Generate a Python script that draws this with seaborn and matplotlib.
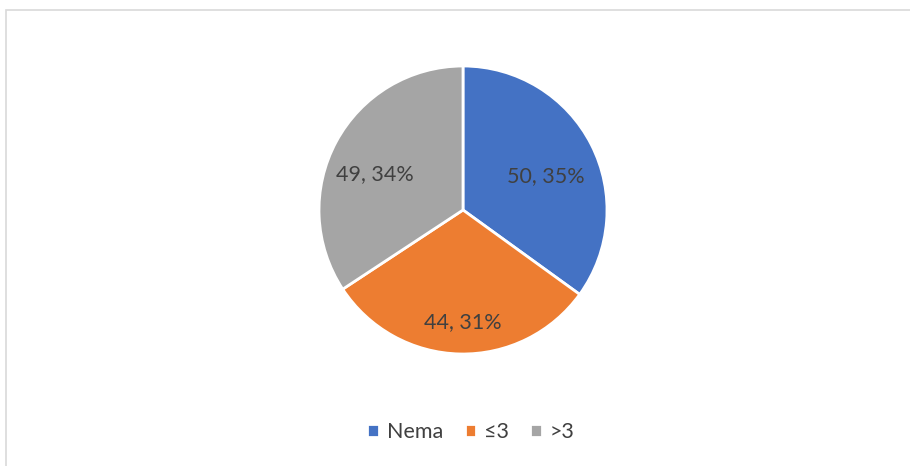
import matplotlib
matplotlib.use("Agg")
import matplotlib.pyplot as plt
import seaborn as sns
import numpy as np

# data
categories = ["Nema", "≤3", ">3"]
values = [50, 44, 49]
colors = ["#4472C4", "#ED7D31", "#A5A5A5"]
label_dist = [0.62, 0.78, 0.66]
label_shift = [-5, 1, 6]  # degrees, nudges like Excel's best-fit placement

sns.set_style("white")
plt.rcParams["font.family"] = ["Lato", "DejaVu Sans"]

W, H = 910, 466
fig = plt.figure(figsize=(W / 100, H / 100), dpi=100)

# light frame around chart area (right and bottom edges fall outside the image)
frame = plt.Rectangle((6 / W, -0.2), 1.2, 1.2 - 10 / H, transform=fig.transFigure,
                      fill=False, edgecolor="#D9D9D9", linewidth=1.2)
fig.patches.append(frame)

ax = fig.add_axes([319 / W, 112 / H, 288 / W, 288 / H])
total = sum(values)
wedges, _, autotexts = ax.pie(
    values, colors=colors, startangle=90, counterclock=False,
    autopct=lambda p: f"{round(p * total / 100)}, {p:.0f}%",
    pctdistance=0.65,
    wedgeprops=dict(edgecolor="white", linewidth=2),
    textprops=dict(color="#404040", fontsize=15.5),
)
for w, t, d, s in zip(wedges, autotexts, label_dist, label_shift):
    ang = np.deg2rad((w.theta1 + w.theta2) / 2 + s)
    t.set_position((d * np.cos(ang), d * np.sin(ang)))
ax.set_xlim(-1, 1)
ax.set_ylim(-1, 1)
ax.set_aspect("equal")

fig.legend(wedges, categories, loc="center", bbox_to_anchor=(471 / W, 1 - 432 / H),
           ncol=3, frameon=False, handlelength=0.55, handleheight=0.55,
           handletextpad=0.35, columnspacing=1.0, fontsize=15.5, labelcolor="#404040")

fig.savefig("out.png", dpi=100)
